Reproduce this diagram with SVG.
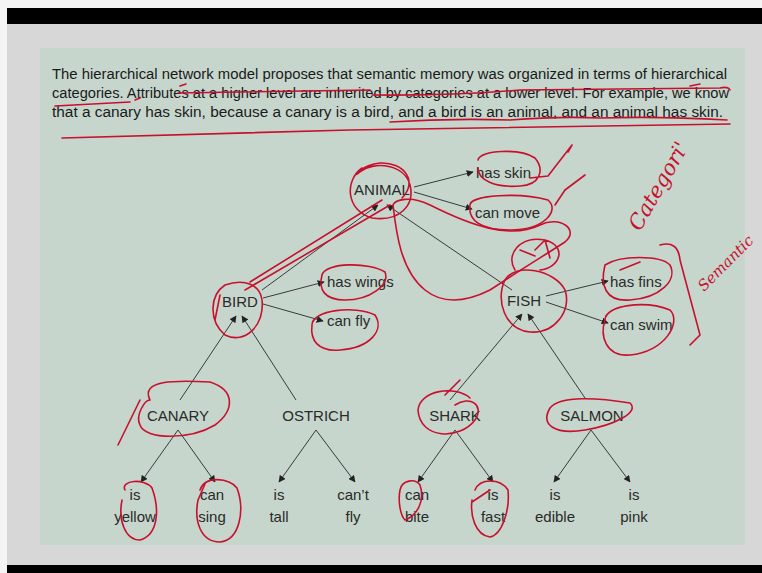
<svg xmlns="http://www.w3.org/2000/svg" width="762" height="573" viewBox="0 0 762 573">
<defs>
<marker id="ah" viewBox="0 0 10 10" refX="9" refY="5" markerWidth="7" markerHeight="7" orient="auto-start-reverse" markerUnits="userSpaceOnUse">
<path d="M0,0 L10,5 L0,10 z" fill="#222"/>
</marker>
<style>
.p{font-family:"Liberation Sans",Arial,sans-serif;font-size:14px;fill:#1a1a1a}
.n{font-family:"Liberation Sans",Arial,sans-serif;font-size:15px;fill:#2a2a2a;text-anchor:middle}
.a{font-family:"Liberation Sans",Arial,sans-serif;font-size:15px;fill:#2a2a2a}
.e{stroke:#3a3a3a;stroke-width:1;fill:none;marker-end:url(#ah)}
.r{stroke:#c8102e;stroke-width:1.6;fill:none;stroke-linecap:round;stroke-linejoin:round}
.h{font-family:"DejaVu Serif",serif;font-style:italic;fill:#c8102e}
</style>
</defs>
<rect x="0" y="0" width="762" height="573" fill="#f4f4f4"/>
<rect x="7" y="8" width="755" height="16" fill="#000"/>
<rect x="7" y="24" width="755" height="541" fill="#d7d7d7"/>
<rect x="40" y="48" width="705" height="497" fill="#c6d6cc"/>
<rect x="7" y="565" width="755" height="8" fill="#000"/>

<g id="paragraph">
<text class="p" x="52" y="79" textLength="675" lengthAdjust="spacingAndGlyphs">The hierarchical network model proposes that semantic memory was organized in terms of hierarchical</text>
<text class="p" x="52" y="98" textLength="677" lengthAdjust="spacingAndGlyphs">categories. Attributes at a higher level are inherited by categories at a lower level. For example, we know</text>
<text class="p" x="52" y="117" textLength="671" lengthAdjust="spacingAndGlyphs">that a canary has skin, because a canary is a bird, and a bird is an animal, and an animal has skin.</text>
</g>

<g id="connectors">
<line class="e" x1="262" y1="290" x2="378" y2="205"/>
<line class="e" x1="512" y1="290" x2="387" y2="205"/>
<line class="e" x1="414" y1="187" x2="473" y2="172"/>
<line class="e" x1="414" y1="192" x2="472" y2="209"/>
<line class="e" x1="263" y1="298" x2="324" y2="282"/>
<line class="e" x1="263" y1="304" x2="323" y2="321"/>
<line class="e" x1="546" y1="296" x2="608" y2="281"/>
<line class="e" x1="546" y1="302" x2="608" y2="323"/>
<line class="e" x1="180" y1="400" x2="236" y2="316"/>
<line class="e" x1="296" y1="400" x2="242" y2="316"/>
<line class="e" x1="450" y1="400" x2="522" y2="314"/>
<line class="e" x1="585" y1="398" x2="528" y2="314"/>
<line class="e" x1="178" y1="430" x2="141" y2="482"/>
<line class="e" x1="178" y1="430" x2="215" y2="482"/>
<line class="e" x1="316" y1="430" x2="279" y2="482"/>
<line class="e" x1="316" y1="430" x2="355" y2="482"/>
<line class="e" x1="455" y1="430" x2="418" y2="482"/>
<line class="e" x1="455" y1="430" x2="493" y2="482"/>
<line class="e" x1="591" y1="430" x2="554" y2="482"/>
<line class="e" x1="591" y1="430" x2="630" y2="482"/>
</g>

<g id="animal"><text class="n" x="382" y="195">ANIMAL</text></g>
<g id="has-skin"><text class="a" x="476" y="178">has skin</text></g>
<g id="can-move"><text class="a" x="475" y="218">can move</text></g>
<g id="bird"><text class="n" x="240" y="307">BIRD</text></g>
<g id="has-wings"><text class="a" x="327" y="287">has wings</text></g>
<g id="can-fly"><text class="a" x="327" y="326">can fly</text></g>
<g id="fish"><text class="n" x="524" y="306">FISH</text></g>
<g id="has-fins"><text class="a" x="610" y="287">has fins</text></g>
<g id="can-swim"><text class="a" x="610" y="330">can swim</text></g>
<g id="canary"><text class="n" x="178" y="421">CANARY</text></g>
<g id="ostrich"><text class="n" x="316" y="421">OSTRICH</text></g>
<g id="shark"><text class="n" x="455" y="421">SHARK</text></g>
<g id="salmon"><text class="n" x="592" y="421">SALMON</text></g>
<g id="is-yellow"><text class="n" x="135" y="500">is</text><text class="n" x="135" y="522">yellow</text></g>
<g id="can-sing"><text class="n" x="212" y="500">can</text><text class="n" x="212" y="522">sing</text></g>
<g id="is-tall"><text class="n" x="279" y="500">is</text><text class="n" x="279" y="522">tall</text></g>
<g id="cant-fly"><text class="n" x="353" y="500">can’t</text><text class="n" x="353" y="522">fly</text></g>
<g id="can-bite"><text class="n" x="417" y="500">can</text><text class="n" x="417" y="522">bite</text></g>
<g id="is-fast"><text class="n" x="493" y="500">is</text><text class="n" x="493" y="522">fast</text></g>
<g id="is-edible"><text class="n" x="555" y="500">is</text><text class="n" x="555" y="522">edible</text></g>
<g id="is-pink"><text class="n" x="634" y="500">is</text><text class="n" x="634" y="522">pink</text></g>

<g id="annotations">
<path class="r" d="M178,93 L370,90 M180,86 L186,84"/>
<path class="r" d="M372,95 Q450,96 520,90 L720,88 Q728,86 730,90 M690,86 L700,84"/>
<path class="r" d="M55,106 L130,102 M135,100 L140,98"/>
<path class="r" d="M390,122 Q450,118 510,120 Q560,116 600,118 Q660,116 727,120"/>
<path class="r" d="M62,138 Q200,134 350,130 Q500,128 730,124"/>
<path class="r" d="M362,168 C345,180 345,210 372,218 C400,222 415,205 410,185 C405,165 375,160 360,172 C350,180 360,165 380,163 C405,162 418,182 402,198"/>
<path class="r" d="M393,205 C396,230 400,270 425,290 C445,306 470,300 490,290 C520,270 545,255 565,242 C580,230 560,215 540,225 C510,240 470,225 430,205 C410,195 395,200 393,205"/>
<path class="r" d="M478,160 C480,150 520,148 535,158 C545,170 540,185 520,186 C495,188 478,180 478,168 M530,178 L548,176 L572,145 L568,152"/>
<path class="r" d="M470,205 C470,195 520,192 548,200 C560,210 545,230 510,230 C480,230 468,220 470,205 M555,205 L565,190 L585,175"/>
<path class="r" d="M505,280 C495,300 505,330 530,332 C555,334 572,310 565,290 C555,270 515,262 505,280 M515,270 C505,255 520,235 545,240 C568,246 560,268 540,270 M520,250 L535,256 M535,250 L545,240 L550,258"/>
<path class="r" d="M605,265 C620,255 660,255 670,265 C678,280 660,298 630,300 C605,302 600,285 605,265 M620,270 L640,262"/>
<path class="r" d="M605,320 C605,305 645,300 670,310 C682,322 665,352 630,355 C605,357 600,335 605,320"/>
<path class="r" d="M660,245 Q678,240 680,260 L700,335 L690,345"/>
<path class="r" d="M225,285 C210,295 208,320 225,335 C245,345 265,325 262,300 C260,285 245,278 225,285 M220,295 L215,320"/>
<path class="r" d="M250,282 L382,200 M245,290 L390,205"/>
<path class="r" d="M322,275 C325,262 370,262 385,272 C390,285 370,300 345,300 C325,300 318,290 322,275"/>
<path class="r" d="M312,325 C312,310 355,305 375,315 C385,330 370,348 340,350 C318,352 310,340 312,325"/>
<path class="r" d="M150,400 C140,380 175,380 210,382 C235,390 235,410 215,425 C190,440 145,440 140,425 C135,415 145,400 150,400 M140,400 L118,445"/>
<path class="r" d="M125,490 C120,480 145,478 152,488 C160,510 158,535 140,540 C125,540 118,520 122,500"/>
<path class="r" d="M200,490 C205,475 230,478 237,488 C245,510 240,540 220,542 C200,542 194,520 198,500 L205,484"/>
<path class="r" d="M470,398 C455,385 420,390 418,410 C420,440 460,440 475,420 C485,405 470,395 455,405 M445,395 L460,380"/>
<path class="r" d="M550,408 C560,395 600,398 630,403 C640,412 615,425 585,430 C555,435 540,425 550,408"/>
<path class="r" d="M400,490 C402,480 415,478 420,485 C425,500 418,515 405,520 C400,515 398,500 400,490"/>
<path class="r" d="M475,490 C480,478 500,478 508,490 C510,510 502,535 490,537 C475,535 470,515 472,500 M472,502 L490,490"/>
<text class="h" font-size="21" x="640" y="232" transform="rotate(-60 640 232)">Categori'</text>
<text class="h" font-size="15" x="704" y="292" transform="rotate(-45 704 292)">Semantic</text>
</g>
</svg>
